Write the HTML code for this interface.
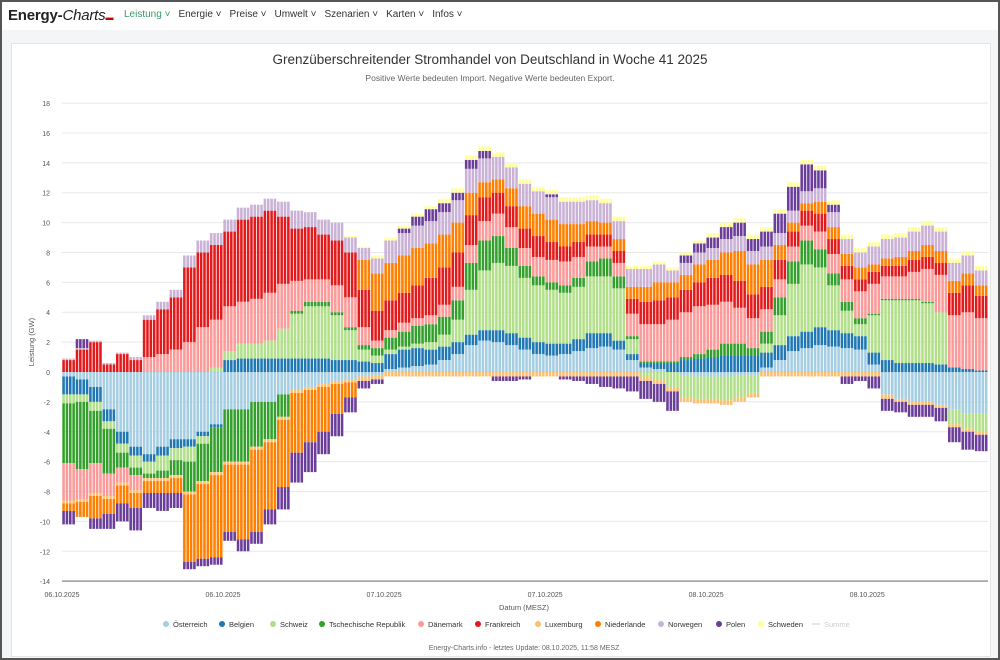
<!DOCTYPE html>
<html><head><meta charset="utf-8">
<style>
html,body{margin:0;padding:0;}
body{width:1000px;height:660px;overflow:hidden;background:#f4f5f6;font-family:"Liberation Sans",sans-serif;position:relative;box-sizing:border-box;border:2px solid #555;}
.nav{position:absolute;left:0;top:0;width:996px;height:28px;background:#fff;}
.logo{position:absolute;left:6px;top:5px;font-size:15px;font-weight:bold;color:#222;letter-spacing:-0.2px;}
.logo i{font-weight:normal;}
.menu{position:absolute;left:122px;top:7px;font-size:10px;color:#333;display:flex;gap:8px;}
.menu span.act{color:#3a9a6a;}
.card{position:absolute;left:9px;top:41px;width:978px;height:612px;background:#fff;border:1px solid #e4e4e4;}
</style></head><body>
<div class="nav">
<div class="logo">Energy-<i>Charts</i><span style="font-size:8px;color:#c00">▬</span></div>
<div class="menu">
<span class="act">Leistung ˅</span>
<span>Energie ˅</span>
<span>Preise ˅</span>
<span>Umwelt ˅</span>
<span>Szenarien ˅</span>
<span>Karten ˅</span>
<span>Infos ˅</span>
</div></div>
<div class="card"></div>
<svg id="chart" width="1000" height="660" style="position:absolute;left:-2px;top:-2px" font-family="Liberation Sans, sans-serif">
<text x="490" y="64" text-anchor="middle" font-size="13.5" fill="#333">Grenzüberschreitender Stromhandel von Deutschland in Woche 41 2025</text>
<text x="490" y="81" text-anchor="middle" font-size="8.5" fill="#666">Positive Werte bedeuten Import. Negative Werte bedeuten Export.</text>
<text x="34" y="342" text-anchor="middle" font-size="7.5" fill="#555" transform="rotate(-90 34 342)">Leistung (GW)</text>
<text x="524" y="610" text-anchor="middle" font-size="7.5" fill="#555">Datum (MESZ)</text>
<text x="524" y="650" text-anchor="middle" font-size="7" fill="#666">Energy-Charts.info - letztes Update: 08.10.2025, 11:58 MESZ</text>
<g id="grid"></g><g id="bars"></g><g id="axes"></g><g id="legend"></g>
</svg>
<script>
const names=["Österreich","Belgien","Schweiz","Tschechische Republik","Dänemark","Frankreich","Luxemburg","Niederlande","Norwegen","Polen","Schweden"];
const colors=["#a6cee3","#1f78b4","#b2df8a","#33a02c","#fb9a99","#e31a1c","#fdbf6f","#ff7f00","#cab2d6","#6a3d9a","#ffff99"];
const yTicks=[18,16,14,12,10,8,6,4,2,0,-2,-4,-6,-8,-10,-12,-14];
const xTickLabels=["06.10.2025","06.10.2025","07.10.2025","07.10.2025","08.10.2025","08.10.2025"];
const xTickHours=[0,12,24,36,48,60];
const AT=[-0.3,-0.5,-1.0,-2.5,-4.0,-5.0,-5.5,-5.0,-4.5,-4.5,-4.0,-3.5,-2.5,-2.5,-2.0,-2.0,-1.5,-1.2,-1.0,-0.8,-0.6,-0.5,-0.3,-0.2,0.2,0.3,0.4,0.5,0.8,1.2,1.8,2.1,2.0,1.8,1.5,1.2,1.1,1.2,1.4,1.6,1.7,1.5,0.8,0.3,0.2,0.0,-0.2,-0.3,-0.3,-0.3,-0.2,-0.2,0.3,0.8,1.4,1.6,1.8,1.7,1.6,1.5,0.5,-1.5,-1.8,-2.0,-2.0,-2.2,-2.5,-2.8,-2.8];
const BE=[-1.2,-1.0,-1.0,-0.8,-0.8,-0.6,-0.5,-0.6,-0.6,-0.5,-0.3,-0.2,0.8,0.9,0.9,0.9,0.9,0.9,0.9,0.9,0.8,0.8,0.7,0.6,1.0,1.2,1.2,1.0,0.9,0.8,0.7,0.7,0.8,0.8,0.8,0.8,0.8,0.7,0.8,1.0,0.9,0.6,0.4,0.3,0.4,0.6,0.8,0.9,1.0,1.1,1.1,1.1,1.0,1.0,1.0,1.1,1.2,1.1,1.0,0.9,0.8,0.8,0.6,0.6,0.6,0.5,0.3,0.2,0.1];
const CH=[-0.6,-0.5,-0.6,-0.5,-0.6,-0.8,-0.8,-1.0,-0.8,-1.0,-0.5,0.3,0.6,1.0,1.0,1.2,2.0,3.0,3.5,3.5,3.0,2.0,0.8,0.5,0.3,0.2,0.3,0.5,0.8,1.5,3.0,4.0,4.5,4.5,4.0,3.8,3.6,3.4,3.5,3.8,3.8,3.5,1.0,-0.3,-0.5,-1.0,-1.5,-1.5,-1.5,-1.6,-1.5,-1.2,0.6,2.0,3.5,4.5,4.0,3.0,1.5,0.8,2.5,4.0,4.2,4.2,4.0,3.5,-1.0,-1.0,-1.2];
const CZ=[-4.0,-4.5,-3.5,-3.0,-1.0,-0.5,-0.3,-0.5,-1.0,-2.0,-2.5,-3.0,-3.5,-3.5,-3.0,-2.5,-1.5,0.2,0.3,0.3,0.2,0.2,0.3,0.5,0.8,1.0,1.2,1.2,1.2,1.3,1.8,2.0,1.8,1.2,0.8,0.6,0.5,0.5,0.6,1.0,1.2,0.8,0.2,0.1,0.1,0.1,0.2,0.3,0.5,0.8,0.8,0.5,0.8,1.2,1.5,1.6,1.2,0.8,0.6,0.4,0.1,0.1,0.1,0.1,0.1,0.0,0,0,0];
const DK=[-2.5,-2.0,-2.0,-1.5,-1.0,-1.0,1.0,1.2,1.5,2.0,3.0,3.2,3.0,2.8,3.0,3.2,3.0,2.0,1.5,1.5,1.8,2.0,1.2,0.5,0.5,0.6,0.5,0.6,0.8,0.9,1.2,1.3,1.5,1.4,1.2,1.3,1.5,1.6,1.4,1.0,0.8,0.9,1.5,2.5,2.5,2.8,3.0,3.2,3.0,2.8,2.4,2.0,1.5,1.2,1.0,1.0,1.2,1.3,1.5,1.8,2.0,1.5,1.5,1.8,2.2,2.5,3.5,3.8,3.5];
const FR=[0.8,1.5,2.0,0.5,1.2,0.8,2.5,3.0,3.5,5.0,5.0,5.0,5.0,5.5,5.5,5.5,4.5,3.5,3.5,3.0,3.0,3.0,2.5,2.0,2.0,2.0,2.2,2.5,2.5,2.3,2.0,1.6,1.4,1.4,1.3,1.4,1.2,1.0,1.0,0.8,0.8,0.8,1.0,1.5,1.6,1.5,1.5,1.6,1.8,1.8,1.8,1.6,1.5,1.3,1.0,1.0,1.2,1.0,0.9,0.8,0.8,0.7,0.7,0.8,0.8,0.8,1.5,1.8,1.5];
const LU=[-0.2,-0.2,-0.2,-0.2,-0.2,-0.2,-0.2,-0.2,-0.2,-0.2,-0.2,-0.2,-0.2,-0.2,-0.2,-0.2,-0.2,-0.2,-0.2,-0.2,-0.2,-0.2,-0.3,-0.3,-0.3,-0.3,-0.3,-0.3,-0.3,-0.3,-0.3,-0.3,-0.3,-0.3,-0.3,-0.3,-0.3,-0.3,-0.3,-0.3,-0.3,-0.3,-0.3,-0.3,-0.3,-0.3,-0.3,-0.3,-0.3,-0.3,-0.3,-0.3,-0.3,-0.3,-0.3,-0.3,-0.3,-0.3,-0.3,-0.3,-0.3,-0.3,-0.2,-0.2,-0.2,-0.2,-0.2,-0.2,-0.2];
const NL=[-0.5,-1.0,-1.5,-1.0,-1.2,-1.0,-0.8,-0.8,-1.0,-4.5,-5.0,-5.5,-4.5,-5.0,-5.5,-4.5,-4.5,-4.0,-3.5,-3.0,-2.0,-1.0,2.0,2.5,2.5,2.5,2.5,2.3,2.2,2.0,1.5,1.0,0.9,1.2,1.5,1.5,1.5,1.5,1.2,0.9,0.8,0.8,0.8,1.0,1.2,1.0,1.0,1.2,1.2,1.5,2.0,2.0,1.8,1.0,0.6,0.5,0.8,0.8,0.8,0.8,0.5,0.5,0.6,0.6,0.8,0.8,0.8,0.8,0.7];
const NO=[0.1,0.1,0.1,0.1,0.1,0.2,0.3,0.5,0.5,0.8,0.8,0.8,0.8,0.8,0.8,0.8,1.0,1.2,1.0,1.0,1.2,1.0,0.8,1.0,1.5,1.5,1.5,1.5,1.5,1.5,1.6,1.6,1.5,1.4,1.5,1.5,1.5,1.5,1.5,1.4,1.3,1.2,1.2,1.2,1.2,0.8,0.8,0.8,0.8,0.9,1.0,0.9,0.9,0.8,0.8,0.8,0.9,1.0,1.0,1.0,1.2,1.3,1.3,1.3,1.3,1.3,1.2,1.2,1.0];
const PL=[-0.9,0.6,-0.7,-1.0,-1.2,-1.5,-1.0,-1.2,-1.0,-0.5,-0.5,-0.5,-0.6,-0.8,-0.8,-1.0,-1.5,-2.0,-2.0,-1.5,-1.5,-1.0,-0.5,-0.3,0.0,0.3,0.6,0.8,0.6,0.5,0.6,0.5,-0.3,-0.3,-0.2,0.0,0.2,-0.2,-0.3,-0.5,-0.7,-0.8,-1.0,-1.2,-1.2,-1.3,0.5,0.6,0.7,0.8,0.9,0.8,1.0,1.3,1.6,1.8,1.2,0.5,-0.5,-0.3,-0.8,-0.8,-0.7,-0.8,-0.8,-0.9,-1.0,-1.2,-1.1];
const SE=[0,0,0,0,0,0,0,0,0,0,0,0,0,0,0,0,0,0,0,0,0,0.1,0.1,0.2,0.2,0.2,0.2,0.2,0.3,0.3,0.3,0.3,0.3,0.3,0.3,0.3,0.3,0.3,0.3,0.3,0.3,0.3,0.2,0.2,0.2,0.2,0.2,0.2,0.3,0.3,0.3,0.3,0.3,0.3,0.3,0.3,0.3,0.3,0.3,0.3,0.3,0.3,0.3,0.3,0.3,0.3,0.3,0.3,0.3];
const series=[AT,BE,CH,CZ,DK,FR,LU,NL,NO,PL,SE];

const NS="http://www.w3.org/2000/svg";
const X0=62,X1=988,Y0=372,PX=14.94,STEP=13.42,SUB=4;
function yScale(v){return Y0-v*PX;}
function xScale(h){return X0+h*STEP;}
function mk(tag,attrs,parent){const e=document.createElementNS(NS,tag);for(const k in attrs)e.setAttribute(k,attrs[k]);parent.appendChild(e);return e;}
const grid=document.getElementById('grid'),axes=document.getElementById('axes'),bars=document.getElementById('bars'),legend=document.getElementById('legend');
yTicks.forEach(t=>{
  const y=yScale(t);
  if(t!==-14){const l=mk('line',{x1:X0,x2:X1,y1:y,y2:y,stroke:'#e8e8e8','stroke-width':1},grid);
  
  }
  const tx=mk('text',{x:50,y:y+3,'text-anchor':'end','font-size':7,fill:'#555'},axes);
  tx.textContent=t;
  
  
});
const ax=mk('line',{x1:X0,x2:X1,y1:yScale(-14),y2:yScale(-14),stroke:'#999','stroke-width':1.5},axes);


xTickLabels.forEach((lab,i)=>{
  const tx=mk('text',{x:xScale(xTickHours[i]),y:597,'text-anchor':'middle','font-size':7,fill:'#555'},axes);
  tx.textContent=lab;
  
  
});
const N=AT.length;
const sw=STEP/SUB;
for(let h=0;h<N;h++){
  let pos=0,neg=0;
  series.forEach((s,si)=>{
    const v=s[h];if(!v)return;
    let top,bot;
    if(v>0){bot=pos;pos+=v;top=pos;}else{top=neg;neg+=v;bot=neg;}
    for(let q=0;q<SUB;q++){
      const r=mk('rect',{x:xScale(h)+q*sw+0.3,y:yScale(top),width:sw-0.8,height:Math.max(0.5,(top-bot)*PX),fill:colors[si]},bars);
      
      
    }
  });
}
// legend
const legX=[166,222,273,322,421,478,538,598,661,719,761];
names.forEach((n,i)=>{
  const g=mk('g',{},legend);
  
  
  mk('circle',{cx:legX[i],cy:624,r:3,fill:colors[i]},g);
  const t=mk('text',{x:legX[i]+7,y:627,'font-size':7.5,fill:'#333'},g);t.textContent=n;
});
const g=mk('g',{},legend);


mk('line',{x1:812,x2:820,y1:624,y2:624,stroke:'#ccc'},g);
const ts=mk('text',{x:824,y:627,'font-size':7.5,fill:'#ccc'},g);ts.textContent='Summe';
</script>
</body></html>
